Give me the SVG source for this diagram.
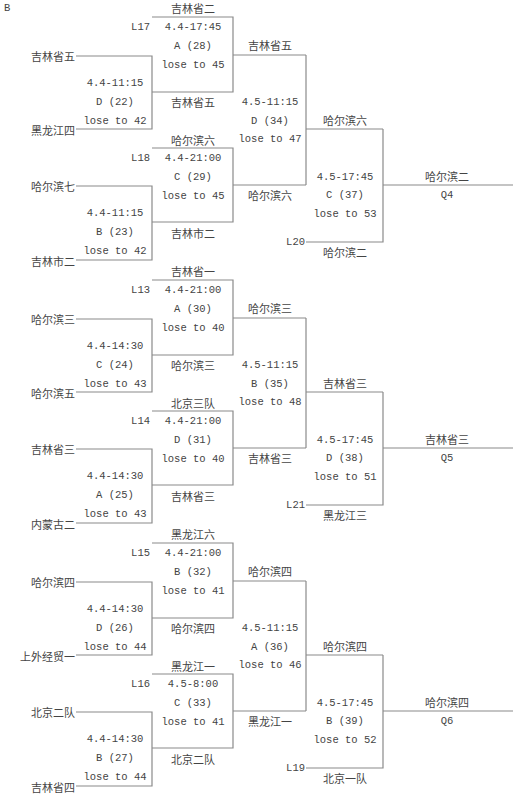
<svg xmlns="http://www.w3.org/2000/svg" width="520" height="800" viewBox="0 0 520 800">
<style>
.bg{fill:#ffffff}
.ln{fill:none;stroke:#8a8a8a;stroke-width:1.2}
.cn{font-family:"Noto Sans CJK SC","Noto Sans CJK JP",sans-serif;font-size:11px;fill:#444;dominant-baseline:central}
.en{font-family:"Liberation Mono","DejaVu Sans Mono",monospace;font-size:10.5px;fill:#444;dominant-baseline:central}
.m{text-anchor:middle}
.e{text-anchor:end}
</style>
<rect class="bg" x="0" y="0" width="520" height="800"/>
<text id="title" class="en" x="4" y="8">B</text>

<g id="connectors">
  <g id="conn-s1">
    <path class="ln" d="M76 56 H152 V129 H76"/>
    <path class="ln" d="M152 17 H233 V92 H152"/>
    <path class="ln" d="M233 55 H306"/>
    <path class="ln" d="M76 186 H152 V260 H76"/>
    <path class="ln" d="M152 148 H233 V222 H152"/>
    <path class="ln" d="M233 185 H306"/>
    <path class="ln" d="M306 55 V185"/>
    <path class="ln" d="M306 129 H383"/>
    <path class="ln" d="M306 242 H383 V129"/>
    <path class="ln" d="M383 185 H513"/>
  </g>
  <g id="conn-s2" transform="translate(0,263)">
    <path class="ln" d="M76 56 H152 V129 H76"/>
    <path class="ln" d="M152 17 H233 V92 H152"/>
    <path class="ln" d="M233 55 H306"/>
    <path class="ln" d="M76 186 H152 V260 H76"/>
    <path class="ln" d="M152 148 H233 V222 H152"/>
    <path class="ln" d="M233 185 H306"/>
    <path class="ln" d="M306 55 V185"/>
    <path class="ln" d="M306 129 H383"/>
    <path class="ln" d="M306 242 H383 V129"/>
    <path class="ln" d="M383 185 H513"/>
  </g>
  <g id="conn-s3" transform="translate(0,526)">
    <path class="ln" d="M76 56 H152 V129 H76"/>
    <path class="ln" d="M152 17 H233 V92 H152"/>
    <path class="ln" d="M233 55 H306"/>
    <path class="ln" d="M76 186 H152 V260 H76"/>
    <path class="ln" d="M152 148 H233 V222 H152"/>
    <path class="ln" d="M233 185 H306"/>
    <path class="ln" d="M306 55 V185"/>
    <path class="ln" d="M306 129 H383"/>
    <path class="ln" d="M306 242 H383 V129"/>
    <path class="ln" d="M383 185 H513"/>
  </g>
</g>

<!-- Section 1 -->
<g id="section1">
  <g id="m22">
    <text class="cn e" x="75" y="56">吉林省五</text>
    <text class="en m" x="115" y="83">4.4-11:15</text>
    <text class="en m" x="115" y="102">D (22)</text>
    <text class="en m" x="115" y="121">lose to 42</text>
    <text class="cn e" x="75" y="130">黑龙江四</text>
  </g>
  <g id="m28">
    <text class="cn m" x="193" y="8">吉林省二</text>
    <text class="en e" x="150" y="27">L17</text>
    <text class="en m" x="193" y="27">4.4-17:45</text>
    <text class="en m" x="193" y="46">A (28)</text>
    <text class="en m" x="193" y="65">lose to 45</text>
    <text class="cn m" x="193" y="102">吉林省五</text>
  </g>
  <g id="m23">
    <text class="cn e" x="75" y="186">哈尔滨七</text>
    <text class="en m" x="115" y="213">4.4-11:15</text>
    <text class="en m" x="115" y="232">B (23)</text>
    <text class="en m" x="115" y="251">lose to 42</text>
    <text class="cn e" x="75" y="261">吉林市二</text>
  </g>
  <g id="m29">
    <text class="cn m" x="193" y="140">哈尔滨六</text>
    <text class="en e" x="150" y="158">L18</text>
    <text class="en m" x="193" y="158">4.4-21:00</text>
    <text class="en m" x="193" y="177">C (29)</text>
    <text class="en m" x="193" y="196">lose to 45</text>
    <text class="cn m" x="193" y="233">吉林市二</text>
  </g>
  <g id="m34">
    <text class="cn m" x="270" y="45">吉林省五</text>
    <text class="en m" x="270" y="102">4.5-11:15</text>
    <text class="en m" x="270" y="121">D (34)</text>
    <text class="en m" x="270" y="139">lose to 47</text>
    <text class="cn m" x="270" y="195">哈尔滨六</text>
  </g>
  <g id="m37">
    <text class="cn m" x="345" y="120">哈尔滨六</text>
    <text class="en m" x="345" y="177">4.5-17:45</text>
    <text class="en m" x="345" y="195">C (37)</text>
    <text class="en m" x="345" y="214">lose to 53</text>
    <text class="en e" x="305" y="242">L20</text>
    <text class="cn m" x="345" y="252">哈尔滨二</text>
  </g>
  <g id="q4">
    <text class="cn m" x="447" y="176">哈尔滨二</text>
    <text class="en m" x="447" y="195">Q4</text>
  </g>
</g>

<!-- Section 2 -->
<g id="section2" transform="translate(0,263)">
  <g id="m24">
    <text class="cn e" x="75" y="56">哈尔滨三</text>
    <text class="en m" x="115" y="83">4.4-14:30</text>
    <text class="en m" x="115" y="102">C (24)</text>
    <text class="en m" x="115" y="121">lose to 43</text>
    <text class="cn e" x="75" y="130">哈尔滨五</text>
  </g>
  <g id="m30">
    <text class="cn m" x="193" y="8">吉林省一</text>
    <text class="en e" x="150" y="27">L13</text>
    <text class="en m" x="193" y="27">4.4-21:00</text>
    <text class="en m" x="193" y="46">A (30)</text>
    <text class="en m" x="193" y="65">lose to 40</text>
    <text class="cn m" x="193" y="102">哈尔滨三</text>
  </g>
  <g id="m25">
    <text class="cn e" x="75" y="186">吉林省三</text>
    <text class="en m" x="115" y="213">4.4-14:30</text>
    <text class="en m" x="115" y="232">A (25)</text>
    <text class="en m" x="115" y="251">lose to 43</text>
    <text class="cn e" x="75" y="261">内蒙古二</text>
  </g>
  <g id="m31">
    <text class="cn m" x="193" y="140">北京三队</text>
    <text class="en e" x="150" y="158">L14</text>
    <text class="en m" x="193" y="158">4.4-21:00</text>
    <text class="en m" x="193" y="177">D (31)</text>
    <text class="en m" x="193" y="196">lose to 40</text>
    <text class="cn m" x="193" y="233">吉林省三</text>
  </g>
  <g id="m35">
    <text class="cn m" x="270" y="45">哈尔滨三</text>
    <text class="en m" x="270" y="102">4.5-11:15</text>
    <text class="en m" x="270" y="121">B (35)</text>
    <text class="en m" x="270" y="139">lose to 48</text>
    <text class="cn m" x="270" y="195">吉林省三</text>
  </g>
  <g id="m38">
    <text class="cn m" x="345" y="120">吉林省三</text>
    <text class="en m" x="345" y="177">4.5-17:45</text>
    <text class="en m" x="345" y="195">D (38)</text>
    <text class="en m" x="345" y="214">lose to 51</text>
    <text class="en e" x="305" y="242">L21</text>
    <text class="cn m" x="345" y="252">黑龙江三</text>
  </g>
  <g id="q5">
    <text class="cn m" x="447" y="176">吉林省三</text>
    <text class="en m" x="447" y="195">Q5</text>
  </g>
</g>

<!-- Section 3 -->
<g id="section3" transform="translate(0,526)">
  <g id="m26">
    <text class="cn e" x="75" y="56">哈尔滨四</text>
    <text class="en m" x="115" y="83">4.4-14:30</text>
    <text class="en m" x="115" y="102">D (26)</text>
    <text class="en m" x="115" y="121">lose to 44</text>
    <text class="cn e" x="75" y="130">上外经贸一</text>
  </g>
  <g id="m32">
    <text class="cn m" x="193" y="8">黑龙江六</text>
    <text class="en e" x="150" y="27">L15</text>
    <text class="en m" x="193" y="27">4.4-21:00</text>
    <text class="en m" x="193" y="46">B (32)</text>
    <text class="en m" x="193" y="65">lose to 41</text>
    <text class="cn m" x="193" y="102">哈尔滨四</text>
  </g>
  <g id="m27">
    <text class="cn e" x="75" y="186">北京二队</text>
    <text class="en m" x="115" y="213">4.4-14:30</text>
    <text class="en m" x="115" y="232">B (27)</text>
    <text class="en m" x="115" y="251">lose to 44</text>
    <text class="cn e" x="75" y="261">吉林省四</text>
  </g>
  <g id="m33">
    <text class="cn m" x="193" y="140">黑龙江一</text>
    <text class="en e" x="150" y="158">L16</text>
    <text class="en m" x="193" y="158">4.5-8:00</text>
    <text class="en m" x="193" y="177">C (33)</text>
    <text class="en m" x="193" y="196">lose to 41</text>
    <text class="cn m" x="193" y="233">北京二队</text>
  </g>
  <g id="m36">
    <text class="cn m" x="270" y="45">哈尔滨四</text>
    <text class="en m" x="270" y="102">4.5-11:15</text>
    <text class="en m" x="270" y="121">A (36)</text>
    <text class="en m" x="270" y="139">lose to 46</text>
    <text class="cn m" x="270" y="195">黑龙江一</text>
  </g>
  <g id="m39">
    <text class="cn m" x="345" y="120">哈尔滨四</text>
    <text class="en m" x="345" y="177">4.5-17:45</text>
    <text class="en m" x="345" y="195">B (39)</text>
    <text class="en m" x="345" y="214">lose to 52</text>
    <text class="en e" x="305" y="242">L19</text>
    <text class="cn m" x="345" y="252">北京一队</text>
  </g>
  <g id="q6">
    <text class="cn m" x="447" y="176">哈尔滨四</text>
    <text class="en m" x="447" y="195">Q6</text>
  </g>
</g>
</svg>
